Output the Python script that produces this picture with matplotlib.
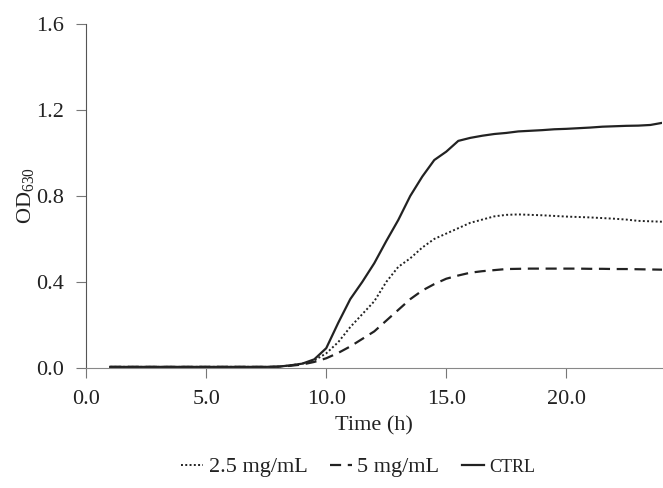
import numpy as np
import matplotlib.pyplot as plt

plt.rcParams['font.family'] = ['Liberation Serif', 'DejaVu Serif']
plt.rcParams['mathtext.fontset'] = 'custom'
plt.rcParams['mathtext.rm'] = 'Liberation Serif'
plt.rcParams['mathtext.it'] = 'Liberation Serif:italic'

# time points (h), every 0.5 h
time = np.arange(1.0, 24.01, 0.5)

early = [0.005] * 14  # 1.0 .. 7.5

ctrl = early + [0.006, 0.012, 0.02, 0.04, 0.092, 0.21, 0.32, 0.40, 0.487, 0.59,
                0.688, 0.80, 0.89, 0.967, 1.006, 1.056, 1.07, 1.08, 1.088, 1.093,
                1.10, 1.103, 1.106, 1.11, 1.112, 1.115, 1.118, 1.122, 1.124,
                1.126, 1.127, 1.13, 1.14]
od_25 = early + [0.006, 0.012, 0.02, 0.035, 0.068, 0.12, 0.19, 0.25, 0.31, 0.40,
                 0.47, 0.51, 0.56, 0.60, 0.625, 0.65, 0.675, 0.69, 0.705, 0.712,
                 0.714, 0.712, 0.71, 0.707, 0.704, 0.702, 0.70, 0.697, 0.694, 0.69,
                 0.684, 0.682, 0.68]
od_5 = early + [0.006, 0.01, 0.016, 0.028, 0.045, 0.07, 0.10, 0.135, 0.17, 0.22,
                0.27, 0.32, 0.36, 0.39, 0.415, 0.43, 0.443, 0.45, 0.455, 0.46,
                0.461, 0.462, 0.462, 0.462, 0.462, 0.462, 0.461, 0.461, 0.46,
                0.46, 0.459, 0.458, 0.457]

fig = plt.figure(figsize=(6.63, 4.88), dpi=100)
ax = fig.add_axes([0.13, 0.246, 0.869, 0.705])

ax.plot(time, od_25, color='#222222', lw=1.4, ls=(0, (1, 1.2)), label='2.5 mg/mL')
ax.plot(time, od_5, color='#222222', lw=1.6, ls=(0, (5, 3)), label='5 mg/mL')
ax.plot(time, ctrl, color='#222222', lw=1.6, label='CTRL')

ax.set_xlim(0, 24)
ax.set_ylim(0, 1.6)
ax.set_xticks([0, 5, 10, 15, 20])
ax.set_xticklabels(['0.0', '5.0', '10.0', '15.0', '20.0'])
ax.set_yticks([0, 0.4, 0.8, 1.2, 1.6])
ax.set_yticklabels(['0.0', '0.4', '0.8', '1.2', '1.6'])
ax.tick_params(labelsize=16, length=7, color='#777777', direction='out', pad=9,
               labelcolor='#222222')

for s in ['top', 'right']:
    ax.spines[s].set_visible(False)
ax.spines['bottom'].set_color('#888888')
ax.spines['left'].set_color('#555555')

ax.set_xlabel('Time (h)', fontsize=16, labelpad=5, color='#222222')
ax.set_ylabel('OD$_{630}$', fontsize=16, labelpad=0, color='#222222')

leg = ax.legend(loc='upper center', bbox_to_anchor=(0.472, -0.2), ncol=3,
                frameon=False, fontsize=16, handlelength=1.0, handletextpad=0.25,
                columnspacing=1.0)
for t in leg.get_texts():
    t.set_color('#222222')
leg.get_texts()[2].set_fontsize(13)

fig.savefig('out.png', dpi=100)
